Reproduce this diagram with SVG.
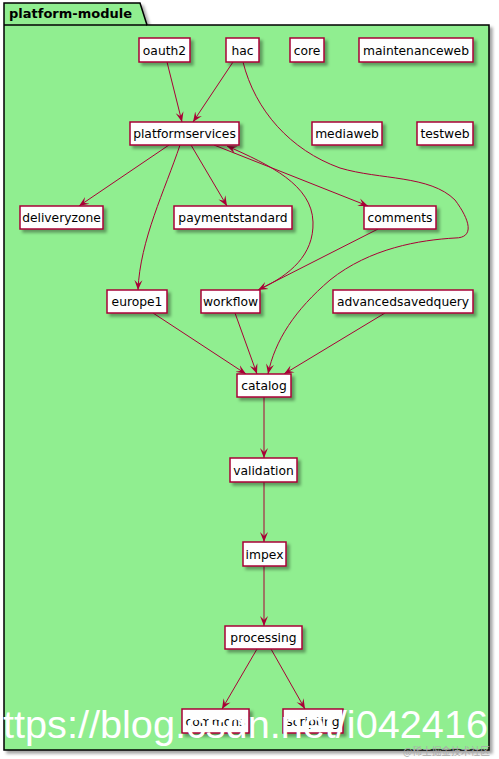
<svg xmlns="http://www.w3.org/2000/svg" width="499" height="759" viewBox="0 0 499 759">
<style>
.n rect{fill:#FEFEFE;stroke:#A80036;stroke-width:1.5;filter:url(#sh)}
.n text{font-family:"DejaVu Sans",sans-serif;font-size:12.3px;fill:#000;text-anchor:middle}
.e path{fill:none;stroke:#A80036;stroke-width:1;marker-end:url(#ah)}
</style>
<defs>
<filter id="sh" x="-20%" y="-30%" width="150%" height="180%">
<feGaussianBlur in="SourceAlpha" stdDeviation="1.5"/>
<feOffset dx="3" dy="3" result="b"/>
<feFlood flood-color="#000" flood-opacity="0.35"/>
<feComposite in2="b" operator="in"/>
<feMerge><feMergeNode/><feMergeNode in="SourceGraphic"/></feMerge>
</filter>
<marker id="ah" viewBox="0 0 10 10" refX="10" refY="5" markerWidth="10" markerHeight="10" orient="auto" markerUnits="userSpaceOnUse">
<path d="M0,1 L10,5 L0,9 L4,5 Z" fill="#A80036"/>
</marker>
</defs>
<rect width="499" height="759" fill="#FFFFFF"/>
<g id="platform-module">
<path d="M4,25 L4,3 L140,3 L147,25 L489,25 L489,750 L4,750 Z" fill="#90EE90" stroke="#000" stroke-width="1.5" filter="url(#sh)"/>
<line x1="4" y1="25" x2="147" y2="25" stroke="#000" stroke-width="1.5"/>
<text x="9" y="18" font-family="DejaVu Sans,sans-serif" font-size="13" font-weight="bold">platform-module</text>
</g>
<g id="connectors" class="e">
<path d="M167,62 L182,122"/>
<path d="M233,62 L193,122"/>
<path d="M243,62 C255,110 290,150 340,168 C380,180 430,175 455,200 C470,220 475,238 455,238 C420,240 370,248 330,280 C295,310 275,340 268,374"/>
<path d="M169,145 L79,206"/>
<path d="M180,145 C165,190 140,240 138,290"/>
<path d="M191,145 L227,206"/>
<path d="M214,145 L368,206"/>
<path d="M260,289 C290,275 314,255 313,222 C312,185 270,165 227,146"/>
<path d="M378,229 L258,290"/>
<path d="M153,313 L246,374"/>
<path d="M235,313 L257,374"/>
<path d="M385,313 L284,374"/>
<path d="M264,397 L264,458"/>
<path d="M264,482 L264,542"/>
<path d="M264,566 L264,626"/>
<path d="M257,649 L222,709"/>
<path d="M271,649 L305,709"/>
</g>
<g id="oauth2" class="n"><rect x="139" y="38" width="51" height="24"/><text x="164.5" y="54.5">oauth2</text></g>
<g id="hac" class="n"><rect x="226" y="38" width="33" height="24"/><text x="242.5" y="54.5">hac</text></g>
<g id="core" class="n"><rect x="290" y="38" width="34" height="24"/><text x="307" y="54.5">core</text></g>
<g id="maintenanceweb" class="n"><rect x="359" y="38" width="114" height="24"/><text x="416" y="54.5">maintenanceweb</text></g>
<g id="platformservices" class="n"><rect x="130" y="122" width="109" height="23"/><text x="184.5" y="138">platformservices</text></g>
<g id="mediaweb" class="n"><rect x="312" y="122" width="70" height="23"/><text x="347" y="138">mediaweb</text></g>
<g id="testweb" class="n"><rect x="417" y="122" width="56" height="23"/><text x="445" y="138">testweb</text></g>
<g id="deliveryzone" class="n"><rect x="20" y="206" width="83" height="23"/><text x="61.5" y="222">deliveryzone</text></g>
<g id="paymentstandard" class="n"><rect x="174" y="206" width="118" height="23"/><text x="233" y="222">paymentstandard</text></g>
<g id="comments" class="n"><rect x="364" y="206" width="72" height="23"/><text x="400" y="222">comments</text></g>
<g id="europe1" class="n"><rect x="107" y="290" width="60" height="23"/><text x="137" y="306">europe1</text></g>
<g id="workflow" class="n"><rect x="201" y="290" width="59" height="23"/><text x="230.5" y="306">workflow</text></g>
<g id="advancedsavedquery" class="n"><rect x="333" y="290" width="140" height="23"/><text x="403" y="306">advancedsavedquery</text></g>
<g id="catalog" class="n"><rect x="237" y="374" width="54" height="23"/><text x="264" y="390">catalog</text></g>
<g id="validation" class="n"><rect x="230" y="458" width="67" height="24"/><text x="263.5" y="474.5">validation</text></g>
<g id="impex" class="n"><rect x="243" y="542" width="43" height="24"/><text x="264.5" y="558.5">impex</text></g>
<g id="processing" class="n"><rect x="225" y="626" width="77" height="23"/><text x="263.5" y="642">processing</text></g>
<g id="commons" class="n"><rect x="182" y="709" width="67" height="24"/><text x="215.5" y="725.5">commons</text></g>
<g id="scripting" class="n"><rect x="283" y="709" width="60" height="24"/><text x="313" y="725.5">scripting</text></g>
<g id="watermark">
<text x="3" y="738" font-family="Liberation Sans,sans-serif" font-size="38" fill="#FFFFFF" textLength="485" lengthAdjust="spacingAndGlyphs">ttps://blog.csdn.net/i042416</text>
<text x="403" y="755" font-family="Noto Sans CJK SC,sans-serif" font-size="10" fill="#AAAAAA" textLength="87" lengthAdjust="spacingAndGlyphs">@稀土掘金技术社区</text>
</g>
</svg>
